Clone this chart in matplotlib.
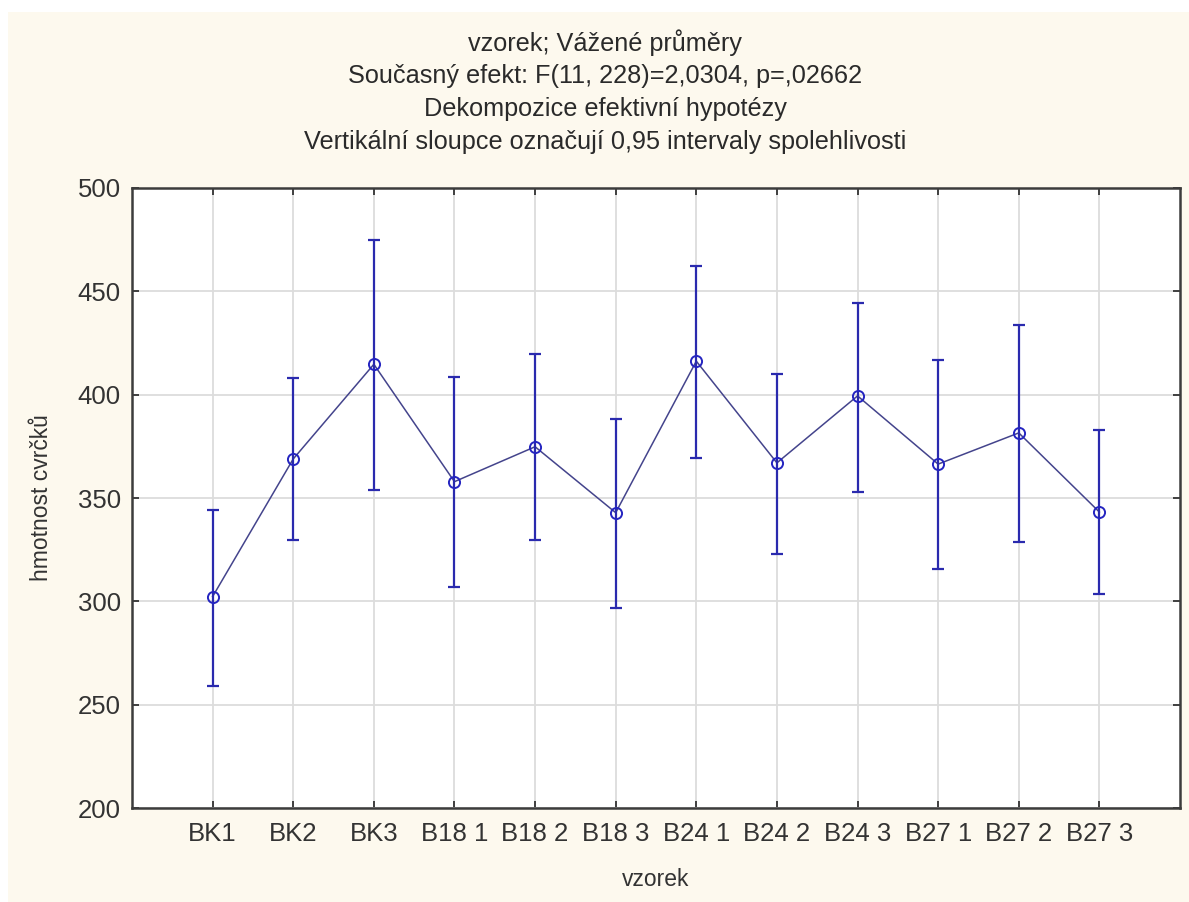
import matplotlib.pyplot as plt
from matplotlib.patches import Rectangle

plt.rcParams['font.family'] = ['Liberation Sans', 'DejaVu Sans']

# Weighted means with 0.95 confidence limits per sample group
samples = ['BK1', 'BK2', 'BK3', 'B18 1', 'B18 2', 'B18 3',
           'B24 1', 'B24 2', 'B24 3', 'B27 1', 'B27 2', 'B27 3']
means = [302.3, 368.9, 414.7, 357.9, 374.8, 342.9,
         416.2, 367.0, 399.4, 366.4, 381.5, 343.2]
upper = [344.2, 407.9, 474.8, 408.7, 419.5, 388.4,
         462.4, 410.1, 444.2, 416.6, 433.8, 382.8]
lower = [259.2, 329.7, 353.9, 306.8, 329.7, 296.8,
         369.5, 322.8, 353.0, 315.8, 328.6, 303.7]

title_lines = ['vzorek; Vážené průměry',
               'Současný efekt: F(11, 228)=2,0304, p=,02662',
               'Dekompozice efektivní hypotézy',
               'Vertikální sloupce označují 0,95 intervaly spolehlivosti']

cream = '#fdf9ee'
fig = plt.figure(figsize=(11.89, 9.02), dpi=100, facecolor='white')
fig.patches.append(Rectangle((8 / 1189, 0), 1 - 8 / 1189, 1 - 12 / 902,
                             transform=fig.transFigure, facecolor=cream,
                             edgecolor='none', zorder=-10))

ax = fig.add_axes([132 / 1189, 1 - 808 / 902, (1180 - 132) / 1189, (808 - 188) / 902])
ax.set_facecolor('white')

x = list(range(len(samples)))
err_lo = [m - l for m, l in zip(means, lower)]
err_hi = [u - m for m, u in zip(means, upper)]

ax.plot(x, means, color='#44448c', lw=1.1, zorder=3)
ax.errorbar(x, means, yerr=[err_lo, err_hi], fmt='none', ecolor='#2a2aae',
            elinewidth=1.6, capsize=4, capthick=1.6, zorder=4)
ax.plot(x, means, 'o', mfc='none', mec='#2424c0', mew=1.4, ms=8, zorder=5)

ax.set_xlim(-1, 12)
ax.set_ylim(200, 500)
ax.set_xticks(x)
ax.set_xticklabels(samples)
ax.set_yticks(range(200, 501, 50))
ax.grid(True, color='#dcdcdc', lw=1.3, zorder=0)
ax.set_axisbelow(True)

ax.tick_params(direction='in', top=True, right=True, length=5, width=1.3,
               colors='#333333', labelsize=18.5, pad=10)
ax.tick_params(axis='y', labelsize=18.5, pad=8)
for s in ax.spines.values():
    s.set_color('#3c3c3c')
    s.set_linewidth(1.8)

ax.set_xlabel('vzorek', fontsize=16.5, color='#333333', labelpad=16)
ax.set_ylabel('hmotnost cvrčků', fontsize=16.5, color='#333333', labelpad=18)

for i, line in enumerate(title_lines):
    fig.text(605 / 1189, 1 - (43 + 33 * i) / 902, line, ha='center', va='center',
             fontsize=18.2, color='#2a2a2a')

fig.savefig('out.png', dpi=100, facecolor=fig.get_facecolor())
